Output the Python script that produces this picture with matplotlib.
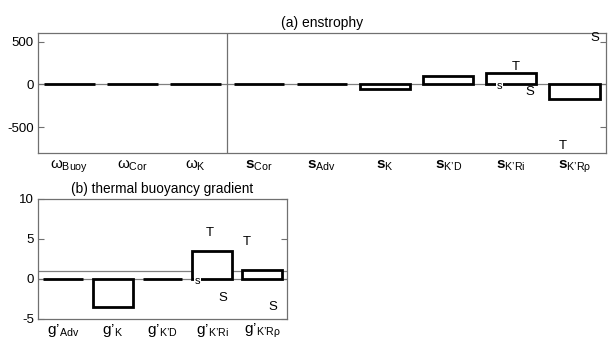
import matplotlib
matplotlib.use("Agg")
import matplotlib.pyplot as plt

plt.rcParams['font.family'] = ['Liberation Sans', 'DejaVu Sans']
plt.rcParams['mathtext.fontset'] = 'custom'
plt.rcParams['mathtext.rm'] = 'Liberation Sans'
plt.rcParams['mathtext.it'] = 'Liberation Sans'
plt.rcParams['mathtext.bf'] = 'Liberation Sans:bold'
plt.rcParams['axes.unicode_minus'] = False

Q = '\u2019'

# (a) enstrophy
cats_a = [r'$\omega_{\mathrm{Buoy}}$', r'$\omega_{\mathrm{Cor}}$', r'$\omega_{\mathrm{K}}$',
          r'$\mathbf{s}_{\mathrm{Cor}}$', r'$\mathbf{s}_{\mathrm{Adv}}$', r'$\mathbf{s}_{\mathrm{K}}$',
          r'$\mathbf{s}_{\mathrm{K' + Q + r'D}}$', r'$\mathbf{s}_{\mathrm{K' + Q + r'Ri}}$',
          r'$\mathbf{s}_{\mathrm{K' + Q + r'R\rho}}$']
vals_a = [0, 0, 0, 0, 0, -50, 100, 130, -170]
ann_a_text = ['T', 's', 'S', 'S', 'T']
ann_a_x = [7.07, 6.81, 7.3, 8.33, 7.82]
ann_a_y = [200, -15, -90, 540, -715]

# (b) thermal buoyancy gradient
cats_b = ['g' + Q + r'$_{\mathrm{Adv}}$', 'g' + Q + r'$_{\mathrm{K}}$',
          'g' + Q + r'$_{\mathrm{K' + Q + r'D}}$', 'g' + Q + r'$_{\mathrm{K' + Q + r'Ri}}$',
          'g' + Q + r'$_{\mathrm{K' + Q + r'R\rho}}$']
vals_b = [0, -3.5, 0, 3.5, 1.1]
ann_b_text = ['T', 'T', 's', 'S', 'S']
ann_b_x = [2.95, 3.7, 2.71, 3.21, 4.22]
ann_b_y = [5.8, 4.6, -0.25, -2.4, -3.5]
ref_line_b = 1.0

fig = plt.figure(figsize=(6.12, 3.4), dpi=100)
ax1 = fig.add_axes([0.062, 0.55, 0.928, 0.353])
ax2 = fig.add_axes([0.062, 0.062, 0.407, 0.353])

spine_col = '#707070'

def style(ax, xpad):
    for s in ax.spines.values():
        s.set_color(spine_col)
        s.set_linewidth(0.9)
    ax.tick_params(axis='y', direction='in', length=4, left=True, right=True,
                   labelsize=9.5, color=spine_col, pad=3)
    ax.tick_params(axis='x', length=0, labelsize=11, pad=xpad)

def draw(ax, cats, vals, tx, ax_x, ax_y, small_s):
    x = list(range(len(cats)))
    ax.axhline(0, color='#808080', lw=0.9, zorder=1)
    ax.bar(x, vals, width=0.8, facecolor='white', edgecolor='black', linewidth=2.0, zorder=2)
    ax.set_xticks(x)
    ax.set_xticklabels(cats)
    ax.set_xlim(-0.5, len(cats) - 0.5)
    for t, xx, yy in zip(tx, ax_x, ax_y):
        if t == 's':
            ax.text(xx, yy, t, ha='center', va='center', fontsize=small_s, zorder=4,
                    bbox=dict(facecolor='white', edgecolor='none', pad=0.5))
        else:
            ax.text(xx, yy, t, ha='center', va='center', fontsize=9.5, zorder=4)

draw(ax1, cats_a, vals_a, ann_a_text, ann_a_x, ann_a_y, 8)
ax1.axvline(2.5, color=spine_col, lw=0.9, zorder=1)
ax1.set_ylim(-800, 600)
ax1.set_yticks([-500, 0, 500])
ax1.set_title('(a) enstrophy', fontsize=10, pad=4)
style(ax1, 4)

draw(ax2, cats_b, vals_b, ann_b_text, ann_b_x, ann_b_y, 8)
ax2.axhline(ref_line_b, color='#808080', lw=0.9, zorder=1)
ax2.set_ylim(-5, 10)
ax2.set_yticks([-5, 0, 5, 10])
ax2.set_title('(b) thermal buoyancy gradient', fontsize=9.8, pad=4)
style(ax2, 2)

fig.savefig('out.png', dpi=100)
